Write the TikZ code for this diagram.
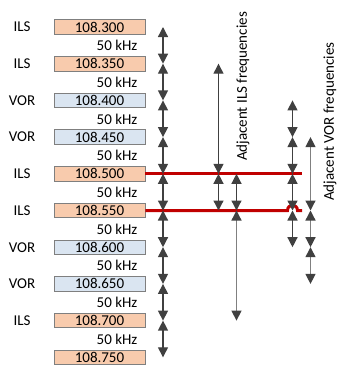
\documentclass[tikz,border=0pt]{standalone}
\usepackage{fontspec}
\setmainfont{Carlito}
\usetikzlibrary{arrows.meta}
\definecolor{ilsfill}{HTML}{F8CBAD}
\definecolor{vorfill}{HTML}{DAE5F1}
\definecolor{boxline}{HTML}{7F7F7F}
\definecolor{arrdark}{HTML}{404040}
\definecolor{arrgray}{HTML}{808080}
\definecolor{redline}{HTML}{C00000}
\tikzset{
  freqbox/.style={draw=boxline, line width=0.9pt, minimum width=91pt, minimum height=14.5pt, inner sep=0pt, font=\fontsize{15}{16}\selectfont},
  ilsbox/.style={freqbox, fill=ilsfill},
  vorbox/.style={freqbox, fill=vorfill},
  typelab/.style={font=\fontsize{15}{16}\selectfont, inner sep=0pt},
  khzlab/.style={font=\fontsize{15}{16}\selectfont, inner sep=0pt},
  dbl/.style={draw=arrdark, line width=1.3pt, {Triangle[length=10pt,width=10pt]}-{Triangle[length=10pt,width=10pt]}, arrows={[color=arrdark]}},
  dblgray/.style={dbl, draw=arrgray},
  redpath/.style={draw=redline, line width=3pt},
  rotlab/.style={font=\fontsize{15}{16}\selectfont, rotate=90, inner sep=0pt},
}
\begin{document}
\begin{tikzpicture}[x=1pt, y=-1pt]
\useasboundingbox (0,0) rectangle (337,365);
% rows
\foreach \i/\f/\t in {0/108.300/ils,1/108.350/ils,2/108.400/vor,3/108.450/vor,4/108.500/ils,5/108.550/ils,6/108.600/vor,7/108.650/vor,8/108.700/ils,9/108.750/ils}{
  \node[\t box] (b\i) at (99.5, 27+36.7*\i) {\f};
}
% type labels
\foreach \i/\l in {0/ILS,1/ILS,2/VOR,3/VOR,4/ILS,5/ILS,6/VOR,7/VOR,8/ILS}{
  \node[typelab] (t\i) at (22, 27+36.7*\i) {\l};
}
% 50 kHz labels
\foreach \i in {0,...,8}{
  \node[khzlab] (k\i) at (117, 45.5+36.7*\i) {50 kHz};
}
% column coordinates
\foreach \i in {0,...,9}{
  \coordinate (a\i) at (163, 27+36.7*\i);
  \coordinate (c\i) at (218.5, 27+36.7*\i);
  \coordinate (d\i) at (236.5, 27+36.7*\i);
  \coordinate (e\i) at (292.5, 27+36.7*\i);
  \coordinate (f\i) at (310.5, 27+36.7*\i);
}
\coordinate (r4end) at (302, 27+36.7*4);
\coordinate (r5end) at (302, 27+36.7*5);
\coordinate (h1) at (287.5, 27+36.7*5);
\coordinate (h2) at (297.5, 27+36.7*5);
% red lines
\draw[redpath] (b4.east) -- (r4end);
\draw[redpath] (b5.east) -- (h1) .. controls ([yshift=7pt]h1) and ([yshift=7pt]h2) .. (h2) -- (r5end);
% column 1
\foreach \i [evaluate=\i as \j using int(\i+1)] in {0,...,8}{
  \draw[dbl] (a\i) -- (a\j);
}
% column 2
\draw[dbl] (c1) -- (c4);
\draw[dbl] (c4) -- (c5);
% column 3
\draw[dbl] (d4) -- (d5);
\draw[dblgray] (d5) -- (d8);
% column 4
\draw[dbl] (e2) -- (e3);
\draw[dbl] (e3) -- (e4);
\draw[dbl] (e4) -- (e5);
\draw[dbl] (e5) -- (e6);
% column 5
\draw[dblgray] (f3) -- (f5);
\draw[dblgray] (f5) -- (f6);
\draw[dblgray] (f6) -- (f7);
% rotated labels
\node[rotlab] (ilsadj) at (243, 86.5) {Adjacent ILS frequencies};
\node[rotlab] (voradj) at (330, 121.5) {Adjacent VOR frequencies};
\end{tikzpicture}
\end{document}
